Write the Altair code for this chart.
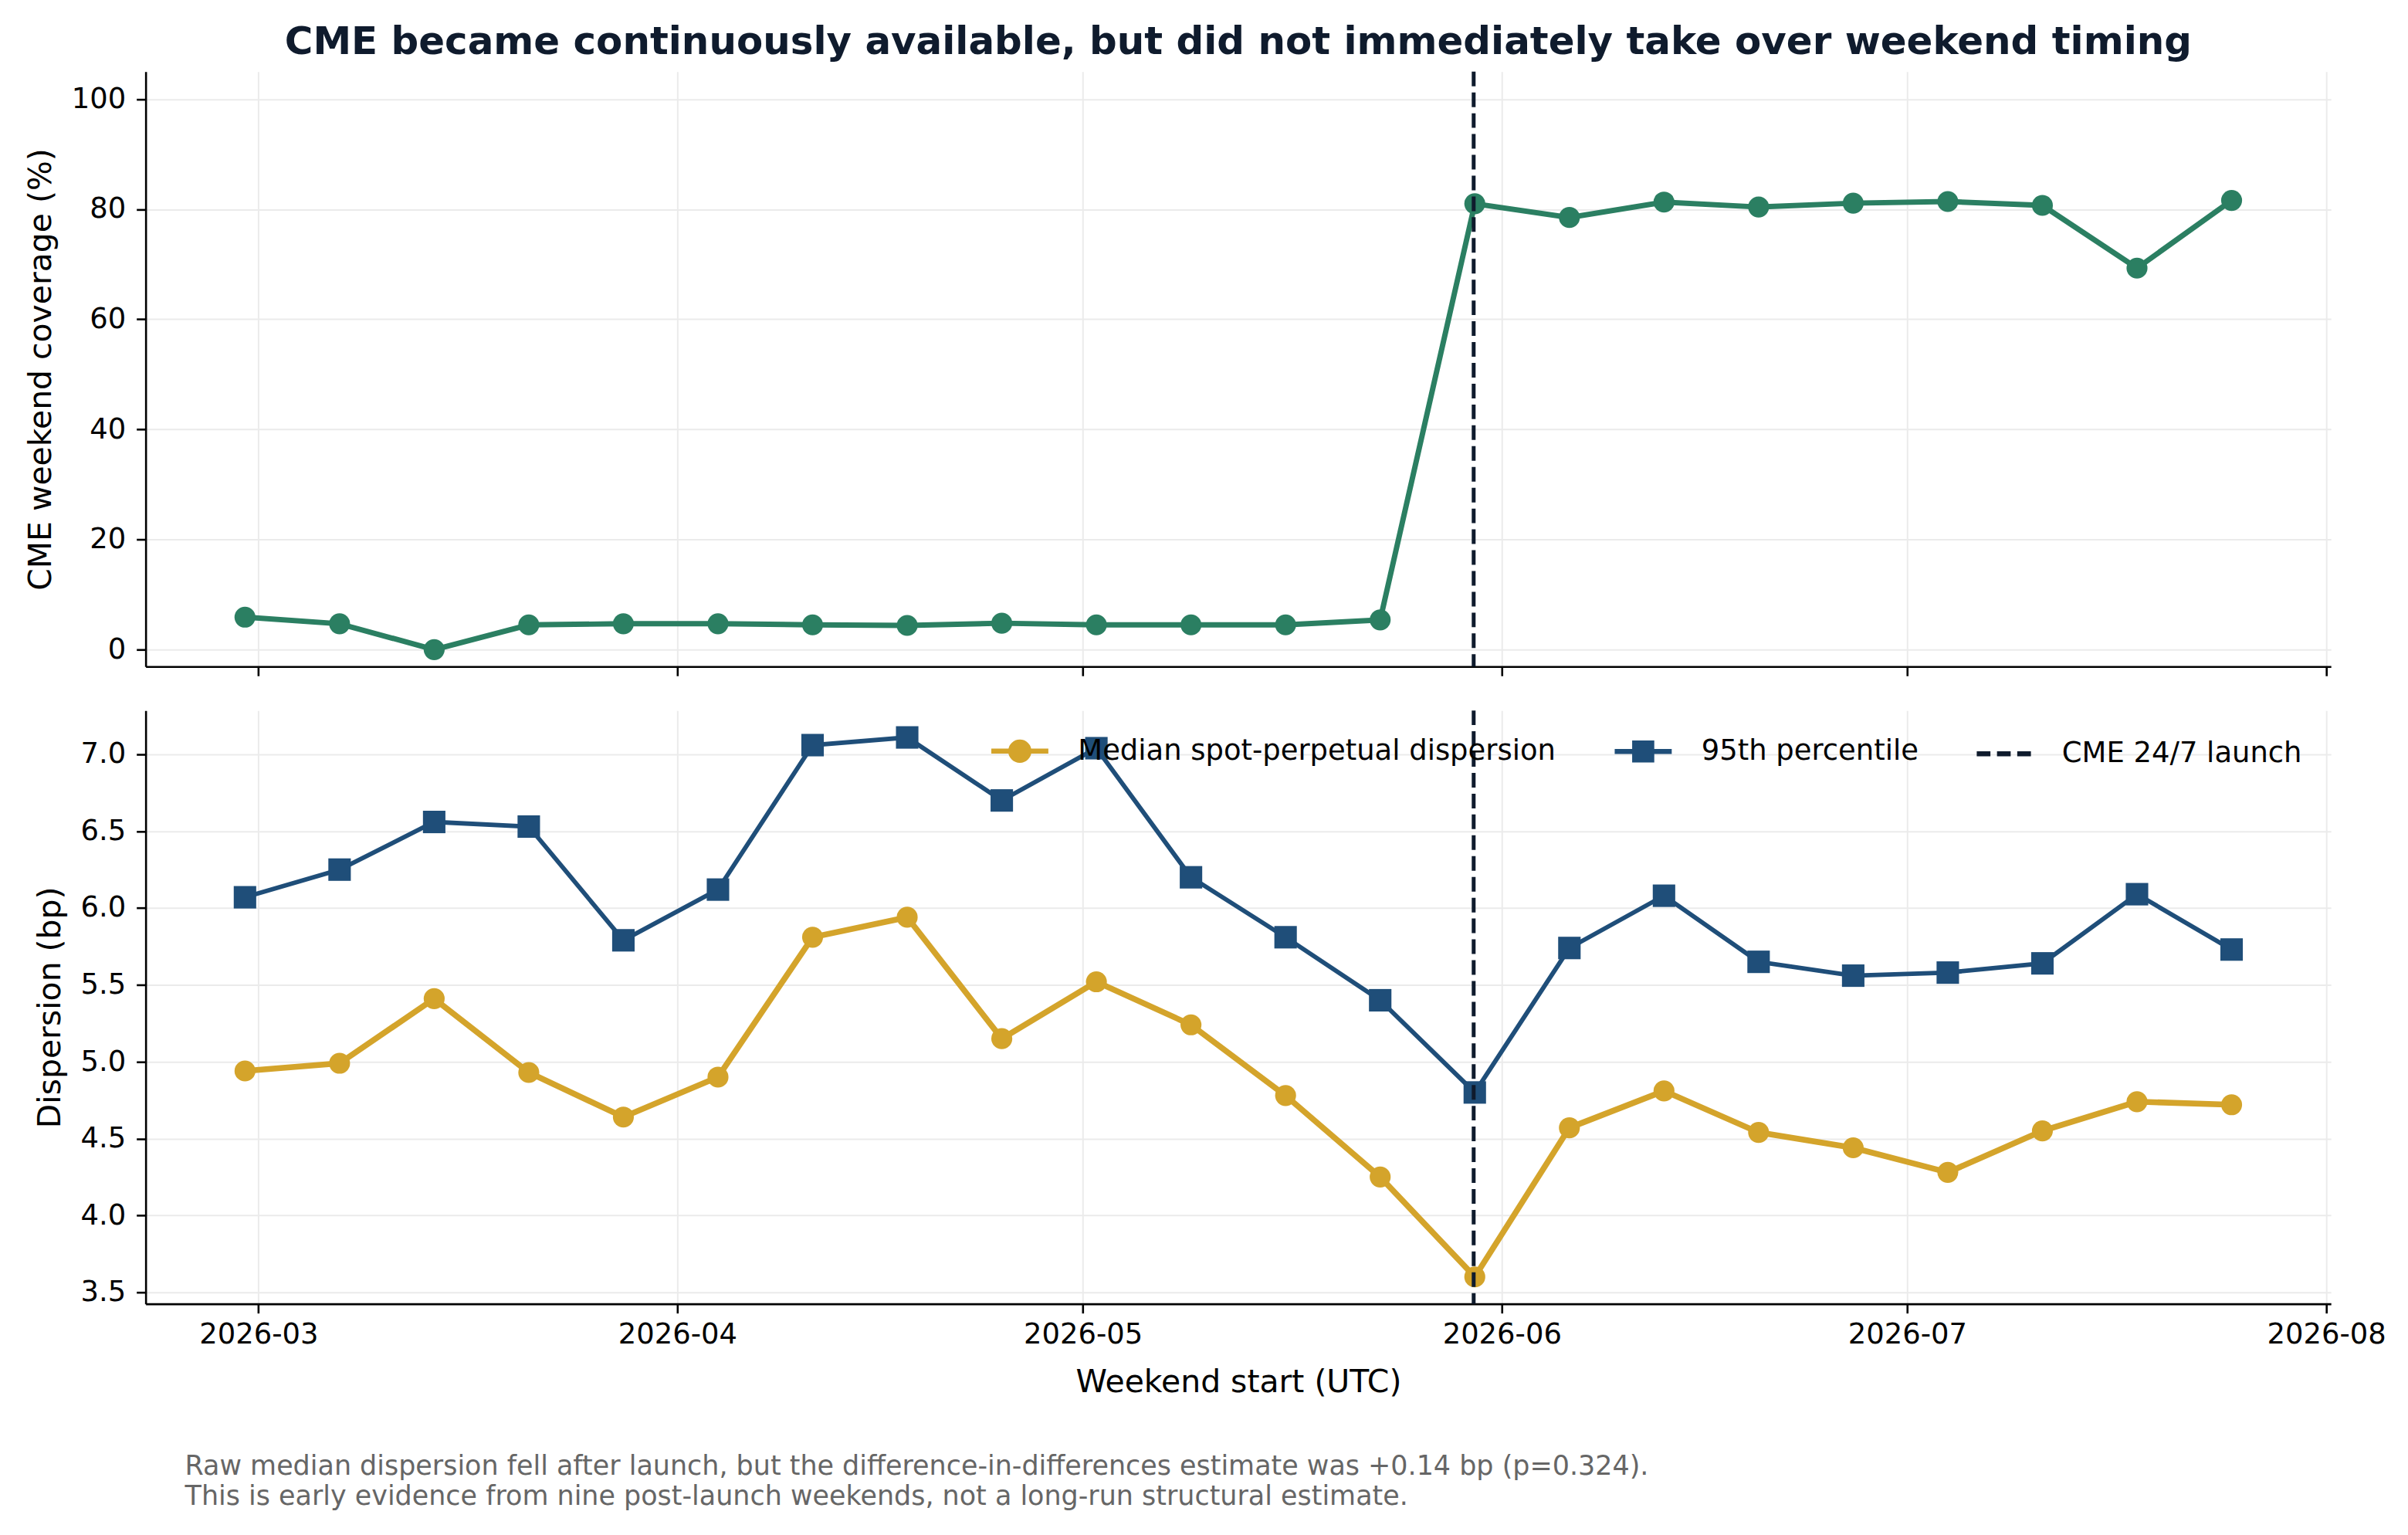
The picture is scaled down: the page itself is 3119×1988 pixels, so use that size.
import altair as alt
import pandas as pd

# ---------------- data ----------------
weekends = ["2026-02-28", "2026-03-07", "2026-03-14", "2026-03-21", "2026-03-28",
            "2026-04-04", "2026-04-11", "2026-04-18", "2026-04-25", "2026-05-02",
            "2026-05-09", "2026-05-16", "2026-05-23", "2026-05-30", "2026-06-06",
            "2026-06-13", "2026-06-20", "2026-06-27", "2026-07-04", "2026-07-11",
            "2026-07-18", "2026-07-25"]
coverage = [5.9, 4.7, 0.0, 4.5, 4.7, 4.7, 4.5, 4.4, 4.8, 4.5, 4.5, 4.5, 5.4,
            81.0, 78.5, 81.3, 80.4, 81.1, 81.4, 80.7, 69.3, 81.6]
median_disp = [4.94, 4.99, 5.41, 4.93, 4.64, 4.90, 5.81, 5.94, 5.15, 5.52, 5.24,
               4.78, 4.25, 3.60, 4.57, 4.81, 4.54, 4.44, 4.28, 4.55, 4.74, 4.72]
p95_disp = [6.07, 6.25, 6.56, 6.53, 5.79, 6.12, 7.06, 7.11, 6.70, 7.04, 6.20,
            5.81, 5.40, 4.80, 5.74, 6.08, 5.65, 5.56, 5.58, 5.64, 6.09, 5.73]
launch_dates = ["2026-05-29T22:00:00Z"]
series_names = ["Median spot-perpetual dispersion", "95th percentile"]
legend_labels = ["Median spot-perpetual dispersion", "95th percentile", "CME 24/7 launch"]
tick_months = [3, 4, 5, 6, 7, 8]

title_text = "CME became continuously available, but did not immediately take over weekend timing"
note_lines = [
    "Raw median dispersion fell after launch, but the difference-in-differences estimate was +0.14 bp (p=0.324).",
    "This is early evidence from nine post-launch weekends, not a long-run structural estimate.",
]

# ---------------- styling ----------------
GREEN = "#2b7f62"
GOLD = "#d4a42b"
NAVY = "#1f4e79"
DARK = "#0f1b2d"
FONT = "DejaVu Sans"
W = 2836

cov_df = pd.DataFrame({"date": weekends, "coverage": coverage})
disp_df = pd.concat([
    pd.DataFrame({"date": weekends, "value": median_disp, "series": series_names[0]}),
    pd.DataFrame({"date": weekends, "value": p95_disp, "series": series_names[1]}),
])
launch_df = pd.DataFrame({"date": launch_dates})
legend_df = pd.DataFrame({"label": legend_labels})

x_domain = [alt.DateTime(year=2026, month=2, date=20, hours=15, minutes=36, utc=True),
            alt.DateTime(year=2026, month=8, date=1, hours=8, minutes=24, utc=True)]
x_values = [alt.DateTime(year=2026, month=m, date=1, utc=True) for m in tick_months]
x_scale = alt.Scale(type="utc", domain=x_domain, nice=False)

x_top = alt.X("date:T", scale=x_scale,
              axis=alt.Axis(values=x_values, labels=False, title=None, grid=True))
x_bot = alt.X("date:T", scale=x_scale,
              axis=alt.Axis(values=x_values, title="Weekend start (UTC)", grid=True,
                            labelExpr="utcFormat(datum.value, '%Y-%m')",
                            labelPadding=10, titlePadding=24))

# ---------------- top panel ----------------
y_top = alt.Y("coverage:Q", scale=alt.Scale(domain=[-3.07, 105.0], nice=False, zero=False),
              axis=alt.Axis(values=[0, 20, 40, 60, 80, 100], title="CME weekend coverage (%)",
                            labelPadding=14, titlePadding=18))

top_line = alt.Chart(cov_df).mark_line(color=GREEN, strokeWidth=7).encode(x=x_top, y=y_top)
top_pts = alt.Chart(cov_df).mark_point(filled=True, shape="circle", size=740, color=GREEN,
                                       opacity=1).encode(x=x_top, y=y_top)
top_rule = alt.Chart(launch_df).mark_rule(color=DARK, strokeWidth=5,
                                          strokeDash=[19, 8]).encode(x=alt.X("date:T", scale=x_scale))

top = alt.layer(top_line, top_pts, top_rule).properties(
    width=W, height=772,
    title=alt.TitleParams(title_text, fontSize=50, fontWeight="bold", color=DARK, font=FONT,
                          anchor="middle", frame="group", offset=10),
)

# ---------------- bottom panel ----------------
y_bot = alt.Y("value:Q", scale=alt.Scale(domain=[3.4245, 7.2855], nice=False, zero=False),
              axis=alt.Axis(values=[3.5, 4.0, 4.5, 5.0, 5.5, 6.0, 6.5, 7.0], format=".1f",
                            title="Dispersion (bp)", labelPadding=14, titlePadding=18))

color_series = alt.Color("series:N", scale=alt.Scale(domain=series_names, range=[GOLD, NAVY]),
                         legend=None)

bot_lines = alt.Chart(disp_df).mark_line().encode(
    x=x_bot, y=y_bot, color=color_series,
    strokeWidth=alt.StrokeWidth("series:N", scale=alt.Scale(domain=series_names, range=[7.6, 5.8]),
                                legend=None),
    detail="series:N",
)
bot_pts = alt.Chart(disp_df).mark_point(filled=True, opacity=1).encode(
    x=x_bot, y=y_bot, color=color_series,
    shape=alt.Shape("series:N", scale=alt.Scale(domain=series_names, range=["circle", "square"]),
                    legend=None),
    size=alt.Size("series:N", scale=alt.Scale(domain=series_names, range=[740, 850]), legend=None),
)
bot_rule = alt.Chart(launch_df).mark_rule(color=DARK, strokeWidth=5,
                                          strokeDash=[19, 8]).encode(x=alt.X("date:T", scale=x_scale))

circle_path = "M-1,0H1M0.32,0A0.32,0.32 0 1,1 -0.32,0A0.32,0.32 0 1,1 0.32,0Z"
square_path = "M-1,0H1M-0.3,-0.3H0.3V0.3H-0.3Z"
dash_path = "M-0.95,0H-0.47M-0.24,0H0.24M0.47,0H0.95"

leg = alt.Legend(title=None, orient="none", legendX=1094, legendY=12, direction="horizontal",
                 labelFontSize=37, labelFont=FONT, labelColor="#000000", labelOffset=35,
                 columnPadding=62, symbolSize=5476, symbolStrokeWidth=6.5, symbolOpacity=1,
                 padding=0, labelLimit=2000)
legend_layer = alt.Chart(legend_df).mark_point(filled=True, opacity=0).encode(
    fill=alt.Fill("label:N", scale=alt.Scale(domain=legend_labels, range=[GOLD, NAVY, DARK]), legend=leg),
    stroke=alt.Stroke("label:N", scale=alt.Scale(domain=legend_labels, range=[GOLD, NAVY, DARK]), legend=leg),
    shape=alt.Shape("label:N", scale=alt.Scale(domain=legend_labels,
                                               range=[circle_path, square_path, dash_path]), legend=leg),
)

bottom = alt.layer(bot_lines, bot_pts, bot_rule, legend_layer).resolve_scale(
    color="independent", shape="independent", fill="independent", stroke="independent"
).resolve_legend(
    color="independent", shape="independent", fill="independent", stroke="independent"
).properties(
    width=W, height=770,
    title=alt.TitleParams(note_lines, orient="bottom", anchor="start", frame="group",
                          fontSize=35, fontWeight="normal", color="#666666", font=FONT,
                          lineHeight=39, dx=51, offset=72),
)

chart = alt.vconcat(top, bottom, spacing=40).properties(
    padding={"left": 24, "top": 20, "right": 20, "bottom": 10}
).configure_view(stroke=None).configure_axis(
    labelFont=FONT, titleFont=FONT, labelFontSize=37, titleFontSize=41,
    labelColor="#000000", titleColor="#000000", titleFontWeight="normal",
    domainColor="#000000", domainWidth=2.6, tickColor="#000000", tickWidth=2.6, tickSize=12,
    gridColor="#ebebeb", gridWidth=2,
)

chart.save("out.html", embed_options={"renderer": "svg", "actions": False})
